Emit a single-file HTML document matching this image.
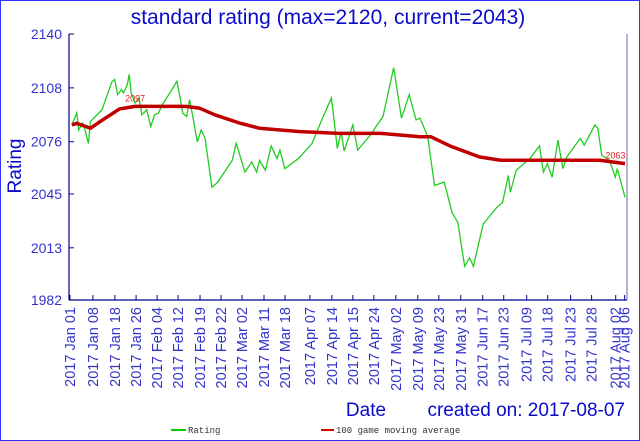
<!DOCTYPE html>
<html><head><meta charset="utf-8"><style>
html,body{margin:0;padding:0;background:#fff}
svg{display:block;font-family:"Liberation Sans",sans-serif}
</style></head><body>
<svg id="chart" width="640" height="441" viewBox="0 0 640 441">
<rect x="0.5" y="0.5" width="639" height="440" fill="#fff" stroke="#3333ff"/>
<text x="328" y="24" text-anchor="middle" font-size="21" fill="#0a0acc">standard rating (max=2120, current=2043)</text>
<text transform="translate(21,166) rotate(-90)" text-anchor="middle" font-size="19" fill="#0a0acc">Rating</text>
<text x="366" y="416" text-anchor="middle" font-size="19" fill="#0a0acc">Date</text>
<text x="625" y="416" text-anchor="end" font-size="19" fill="#0a0acc">created on: 2017-08-07</text>
<g id="grid"></g>
<g id="series"></g>
<line x1="69" y1="34" x2="69" y2="300" stroke="#00008b" stroke-width="1.2"/>
<line x1="69" y1="300" x2="627" y2="300" stroke="#00008b" stroke-width="1.2"/>
<line x1="627" y1="34" x2="627" y2="300" stroke="#6666aa" stroke-width="1"/>
<g>
<line x1="171" y1="430" x2="186" y2="430" stroke="#00cc00" stroke-width="2"/>
<text x="188" y="433" font-family="Liberation Mono, monospace" font-size="9" fill="#333">Rating</text>
<line x1="321" y1="430" x2="334" y2="430" stroke="#dd0000" stroke-width="2"/>
<text x="336" y="433" font-family="Liberation Mono, monospace" font-size="9" fill="#333">100 game moving average</text>
</g>
</svg>
<script>
const yTicks=[1982,2013,2045,2076,2108,2140];
const xTickGames=[0.5,12.3,23.6,34.5,45.3,56.1,67.4,78.2,89,100.3,111.1,123.9,135.2,146,156.8,168.1,179.4,190.2,201.5,212.8,223.6,235.4,246.2,258,268.8,281.2,285.8];
const xTickLabels=["2017 Jan 01","2017 Jan 08","2017 Jan 18","2017 Jan 26","2017 Feb 04","2017 Feb 12","2017 Feb 19","2017 Feb 22","2017 Mar 02","2017 Mar 11","2017 Mar 18","2017 Apr 07","2017 Apr 14","2017 Apr 15","2017 Apr 24","2017 May 02","2017 May 09","2017 May 23","2017 May 31","2017 Jun 17","2017 Jun 23","2017 Jul 09","2017 Jul 18","2017 Jul 23","2017 Jul 28","2017 Aug 02","2017 Aug 06"];
const ratingGames=[1.5,4,5,7,8,10,11,17,18.5,22,23.5,25,27,28,30,31,32,34,36,37.5,40,42,44,46,48,53,55.5,57,58.5,60.5,62,64,66,68,70,73.5,76.5,84,86,90.5,94,96.5,98,101,104,107,108.5,111,118,125,130,135,138,140,141.5,146,148.5,155,161.5,167,169,171,175,178.5,180.5,182,184.5,188,193,197,200,203.5,206,208,213,220,223,226,227,230,237,242,244,246,248.5,251.5,254,256,263,265,270.5,272,274,278,281,282,286];
const ratingValues=[2086,2093,2083,2087,2084,2075,2088,2095,2100,2111.5,2113,2104,2107,2105,2110,2116,2105,2099,2102,2092,2095,2085,2092,2093,2098,2107,2112,2103,2093,2091,2101,2089,2076,2083,2078,2049,2052,2065,2075,2058,2064,2058,2065,2059,2073.5,2066,2071,2060,2066,2075,2089,2102,2072,2082,2070.5,2086,2071,2080,2091,2120,2105,2090,2104,2089,2090,2086,2079,2050,2052,2034,2028,2002,2007,2002,2027,2037,2040,2056,2046,2059,2066,2073.5,2058,2063,2055,2077,2060,2067,2078,2074,2086,2084,2068,2065,2055,2060,2043];
const maGames=[1.5,4,11,16,26,34,60,67,75,88,98,119,139,160,180.5,186,196,211,222,273,286];
const maValues=[2086,2087,2084,2088,2095.5,2097,2097,2096,2092,2087,2084,2082,2081,2081,2079,2079,2073.5,2067,2065,2065,2063];
const annotations=[{g:34,v:2097,label:"2097"},{g:281,v:2063,label:"2063"}];

const NS="http://www.w3.org/2000/svg";
const X0=69,X1=627,Y0=300,Y1=34,GMAX=287,VMIN=1982,VMAX=2140;
const xs=g=>X0+(g/GMAX)*(X1-X0);
const ys=v=>Y0-(v-VMIN)/(VMAX-VMIN)*(Y0-Y1);
const grid=document.getElementById('grid'),series=document.getElementById('series');
function mk(tag,attrs,parent){const e=document.createElementNS(NS,tag);for(const k in attrs)e.setAttribute(k,attrs[k]);parent.appendChild(e);return e;}
yTicks.forEach(v=>{
  const t=mk('line',{x1:X0,x2:X0+5,y1:ys(v),y2:ys(v),stroke:'#00008b'},grid);
  
  
  const l=mk('text',{x:X0-7,y:ys(v)+5,'text-anchor':'end','font-size':'14',fill:'#3333cc'},grid);
  l.textContent=v;
  
  
});
xTickGames.forEach((g,i)=>{
  const x=xs(g);
  const t=mk('line',{x1:x,x2:x,y1:Y0,y2:Y0-5,stroke:'#00008b'},grid);
  
  
  const l=mk('text',{transform:`translate(${x+5},307) rotate(-90)`,'text-anchor':'end','font-size':'14.5',fill:'#3333cc'},grid);
  l.textContent=xTickLabels[i];
  
  
});
const rp=mk('polyline',{points:ratingGames.map((g,i)=>xs(g)+','+ys(ratingValues[i])).join(' '),fill:'none',stroke:'#22cc22','stroke-width':'1.3'},series);


const mp=mk('polyline',{points:maGames.map((g,i)=>xs(g)+','+ys(maValues[i])).join(' '),fill:'none',stroke:'#c00000','stroke-width':'3.5','stroke-linejoin':'round'},series);


annotations.forEach(a=>{
  const t=mk('text',{x:xs(a.g)-10,y:ys(a.v)-5,'font-size':'9',fill:'#dd2222'},series);
  t.textContent=a.label;
  
  
});
</script>
</body></html>
